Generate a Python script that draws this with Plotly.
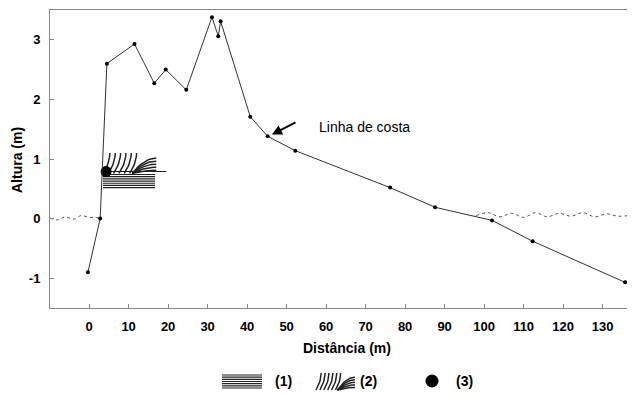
import numpy as np
import plotly.graph_objects as go

# ---- data ----
dist = [-0.3, 2.8, 4.5, 11.5, 16.5, 19.4, 24.6, 31.1, 32.7, 33.3, 40.8, 45.2, 52.2, 76.2, 87.6, 102.0, 112.3, 135.7]
alt = [-0.90, 0.00, 2.60, 2.93, 2.27, 2.50, 2.16, 3.38, 3.06, 3.31, 1.71, 1.38, 1.14, 0.52, 0.19, -0.03, -0.38, -1.07]

sea_left_x = [-9.9, -8, -6, -4, -2, 0, 1.5, 2.8]
sea_left_y = [0.01, -0.02, 0.03, -0.01, 0.05, 0.02, 0.02, 0.0]
sea_right_x = [98, 101, 104, 107, 110, 113, 116, 119, 122, 125, 128, 131, 134, 137.5]
sea_right_y = [0.05, 0.10, 0.03, 0.09, 0.02, 0.10, 0.03, 0.09, 0.04, 0.10, 0.03, 0.08, 0.04, 0.06]

x_ticks = [0, 10, 20, 30, 40, 50, 60, 70, 80, 90, 100, 110, 120, 130]
y_ticks = [-1, 0, 1, 2, 3]
y_ticktext = ["-1", "0", "1", "2", "3"]

# features at the outcrop
unit1_box = [3.5, 16.7, 0.52, 0.74]    # (1) planar laminations
unit2_box = [3.5, 17.0, 0.76, 1.10]    # (2) cross laminations
unit3_pt = [4.3, 0.79]                 # (3) sample
unit3_line = [4.3, 19.5, 0.79]
legend_labels = ["(1)", "(2)", "(3)"]

# page body has an 8px margin: figure is shifted by OFF inside the window
OFF = 8
W, H = 635 - OFF, 398 - OFF
PX0, PX1 = 50, 635
PY0, PY1 = 10, 308
XR = [-9.9, 138.2]
YR = [-1.5, 3.5]


def px(x):
    return (x - OFF) / W


def py(y):
    return 1 - (y - OFF) / H


fig = go.Figure()
INK = "#222222"
FONT = "Liberation Sans, Arial"


def hatch1(x0, x1, y0, y1, n=7):
    xs, ys = [], []
    for i in range(n):
        v = y0 + (y1 - y0) * i / (n - 1)
        xs += [x0, x1, None]
        ys += [v, v, None]
    return xs, ys


def hatch2(x0, x1, y0, y1):
    xs, ys = [], []
    t = np.linspace(0, 1, 12)
    for i in range(6):
        us = 0.0 + i * 0.1
        u = us + 0.13 * (1 - (1 - t) ** 2)
        v = t
        xs += list(x0 + (x1 - x0) * u) + [None]
        ys += list(y0 + (y1 - y0) * v) + [None]
    s = np.linspace(0, 1, 12)
    for j, ve in enumerate([0.15, 0.3, 0.45, 0.6, 0.75]):
        u = 0.55 + 0.45 * s
        v = 0.0 + ve * (1 - (1 - s) ** 2)
        xs += list(x0 + (x1 - x0) * u) + [None]
        ys += list(y0 + (y1 - y0) * v) + [None]
    return xs, ys


# sea level (waves)
for sx, sy in [(sea_left_x, sea_left_y), (sea_right_x, sea_right_y)]:
    fig.add_trace(go.Scatter(x=sx, y=sy, mode="lines", line=dict(color="#555", width=1, dash="dot", shape="spline"),
                             hoverinfo="skip", showlegend=False))

# outcrop symbols
hx, hy = hatch1(*unit1_box)
fig.add_trace(go.Scatter(x=hx, y=hy, mode="lines", line=dict(color=INK, width=1.2), showlegend=False, hoverinfo="skip"))
hx, hy = hatch2(*unit2_box)
fig.add_trace(go.Scatter(x=hx, y=hy, mode="lines", line=dict(color=INK, width=1.5), showlegend=False, hoverinfo="skip"))
fig.add_trace(go.Scatter(x=[unit3_line[0], unit3_line[1]], y=[unit3_line[2], unit3_line[2]], mode="lines",
                         line=dict(color=INK, width=1.2), showlegend=False, hoverinfo="skip"))
fig.add_trace(go.Scatter(x=[unit3_pt[0]], y=[unit3_pt[1]], mode="markers",
                         marker=dict(color="black", size=11), showlegend=False, hoverinfo="skip"))

# profile
fig.add_trace(go.Scatter(x=dist, y=alt, mode="lines+markers", line=dict(color="#333", width=1),
                         marker=dict(color="black", size=4), showlegend=False))

# legend symbols on a window-pixel-space axis
lx, ly = hatch1(222, 262, 375, 388)
fig.add_trace(go.Scatter(x=lx, y=ly, xaxis="x2", yaxis="y2", mode="lines", line=dict(color=INK, width=1.2),
                         showlegend=False, hoverinfo="skip"))
lx, ly = hatch2(316, 355, 390, 373)
fig.add_trace(go.Scatter(x=lx, y=ly, xaxis="x2", yaxis="y2", mode="lines", line=dict(color=INK, width=1.5),
                         showlegend=False, hoverinfo="skip"))
fig.add_trace(go.Scatter(x=[432], y=[381], xaxis="x2", yaxis="y2", mode="markers",
                         marker=dict(color="black", size=13), showlegend=False, hoverinfo="skip"))

ann = []
for txt, lxp in zip(legend_labels, [283, 368, 464]):
    ann.append(dict(x=px(lxp), y=py(381), xref="paper", yref="paper", text=txt, showarrow=False,
                    xanchor="center", yanchor="middle",
                    font=dict(size=14, color="black", weight="bold", family=FONT)))
ann.append(dict(x=px(347), y=py(348), xref="paper", yref="paper", text="Distância (m)", showarrow=False,
                xanchor="center", yanchor="middle",
                font=dict(size=14, color="black", weight="bold", family=FONT)))
ann.append(dict(x=px(17), y=py(160), xref="paper", yref="paper", text="Altura (m)", showarrow=False,
                xanchor="center", yanchor="middle",
                textangle=-90, font=dict(size=14, color="black", weight="bold", family=FONT)))
ann.append(dict(x=46.3, y=1.41, xref="x", yref="y", ax=25, ay=-13, text="", showarrow=True,
                arrowhead=2, arrowsize=1, arrowwidth=2, arrowcolor="black"))
ann.append(dict(x=69.6, y=1.54, xref="x", yref="y", text="Linha de costa", showarrow=False,
                xanchor="center", yanchor="middle",
                font=dict(size=14, color="black", family=FONT)))

axis_common = dict(showgrid=False, zeroline=False, showline=True, linecolor="#888", linewidth=1, mirror=True,
                   ticks="inside", ticklen=4, tickcolor="#888", automargin=False,
                   tickfont=dict(size=13, color="black", weight="bold", family=FONT))

fig.update_layout(
    width=W, height=H, margin=dict(l=0, r=0, t=0, b=0, pad=0),
    paper_bgcolor="white", plot_bgcolor="rgba(0,0,0,0)",
    xaxis=dict(range=XR, domain=[px(PX0), min(1, px(PX1))], tickvals=x_ticks, ticklabelstandoff=6,
               anchor="y", **axis_common),
    yaxis=dict(range=YR, domain=[py(PY1), py(PY0)], tickvals=y_ticks, ticktext=y_ticktext,
               ticklabelstandoff=6, anchor="x", **axis_common),
    xaxis2=dict(range=[OFF, 635], domain=[0, 1], visible=False, anchor="y2", automargin=False),
    yaxis2=dict(range=[398, OFF], domain=[0, 1], visible=False, anchor="x2", automargin=False),
    annotations=ann,
)

fig.write_html("out.html")
